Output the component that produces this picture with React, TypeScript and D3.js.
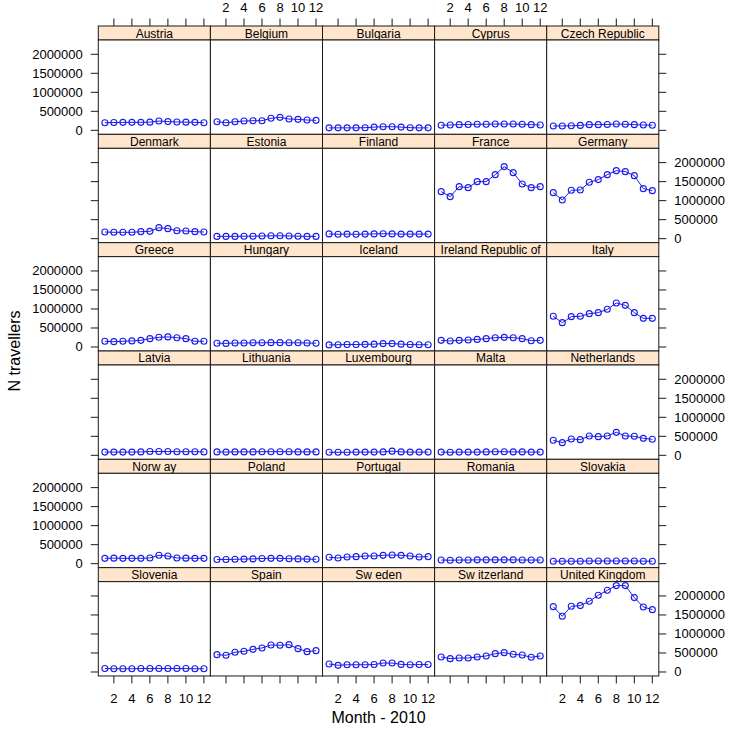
import React from "react";
import * as d3 from "d3";

const countries = [
  "Austria", "Belgium", "Bulgaria", "Cyprus", "Czech Republic",
  "Denmark", "Estonia", "Finland", "France", "Germany",
  "Greece", "Hungary", "Iceland", "Ireland Republic of", "Italy",
  "Latvia", "Lithuania", "Luxembourg", "Malta", "Netherlands",
  "Norw ay", "Poland", "Portugal", "Romania", "Slovakia",
  "Slovenia", "Spain", "Sw eden", "Sw itzerland", "United Kingdom",
];

const months = [1, 2, 3, 4, 5, 6, 7, 8, 9, 10, 11, 12];

// thousands of travellers per month
const austria = [200, 205, 210, 210, 210, 215, 245, 230, 220, 215, 210, 200];
const belgium = [226, 200, 226, 245, 253, 253, 316, 342, 297, 289, 271, 263];
const bulgaria = [65, 65, 65, 65, 70, 85, 95, 95, 85, 70, 65, 65];
const cyprus = [135, 140, 150, 155, 160, 160, 165, 165, 165, 160, 150, 140];
const czech = [115, 115, 120, 130, 150, 150, 155, 165, 160, 150, 140, 135];
const denmark = [175, 167, 167, 167, 184, 193, 290, 263, 210, 202, 184, 175];
const estonia = [60, 60, 60, 65, 65, 70, 75, 75, 70, 65, 60, 60];
const finland = [125, 115, 120, 115, 120, 125, 130, 125, 120, 120, 120, 120];
const france = [1237, 1105, 1368, 1342, 1500, 1500, 1684, 1895, 1737, 1439, 1342, 1368];
const germany = [1210, 1018, 1272, 1280, 1482, 1553, 1684, 1789, 1763, 1658, 1316, 1263];
const greece = [150, 140, 150, 160, 175, 220, 255, 265, 245, 220, 150, 150];
const hungary = [100, 95, 105, 105, 110, 110, 115, 115, 110, 110, 105, 100];
const iceland = [55, 60, 65, 65, 70, 75, 90, 90, 75, 65, 60, 60];
const ireland = [175, 158, 175, 184, 200, 219, 245, 254, 245, 219, 166, 175];
const italy = [807, 640, 798, 807, 877, 904, 991, 1158, 1096, 904, 754, 754];
const latvia = [85, 85, 85, 85, 90, 100, 100, 100, 95, 95, 95, 90];
const lithuania = [90, 85, 90, 90, 90, 95, 95, 95, 95, 90, 90, 90];
const luxembourg = [80, 80, 80, 85, 85, 85, 90, 110, 90, 85, 85, 85];
const malta = [85, 80, 85, 85, 85, 90, 95, 95, 90, 90, 85, 85];
const netherlands = [395, 333, 430, 412, 509, 491, 509, 605, 509, 500, 447, 421];
const norway = [140, 145, 140, 140, 140, 150, 220, 200, 150, 145, 140, 140];
const poland = [110, 110, 115, 120, 125, 135, 140, 140, 130, 125, 120, 115];
const portugal = [167, 149, 175, 184, 202, 202, 219, 228, 219, 202, 175, 184];
const romania = [95, 90, 95, 95, 100, 100, 100, 100, 100, 95, 95, 95];
const slovakia = [65, 65, 65, 65, 70, 70, 70, 70, 70, 70, 65, 65];
const slovenia = [90, 85, 85, 85, 90, 90, 90, 90, 90, 90, 85, 85];
const spain = [456, 439, 518, 544, 596, 632, 711, 702, 719, 614, 535, 561];
const sweden = [210, 175, 190, 190, 190, 195, 235, 235, 200, 190, 195, 195];
const switzerland = [395, 351, 368, 368, 395, 421, 482, 509, 465, 447, 386, 421];
const uk = [1719, 1465, 1728, 1746, 1860, 2018, 2149, 2272, 2272, 1956, 1711, 1640];

const series = [
  austria, belgium, bulgaria, cyprus, czech,
  denmark, estonia, finland, france, germany,
  greece, hungary, iceland, ireland, italy,
  latvia, lithuania, luxembourg, malta, netherlands,
  norway, poland, portugal, romania, slovakia,
  slovenia, spain, sweden, switzerland, uk,
];

const xTicks = [2, 4, 6, 8, 10, 12];
const yTicks = [0, 500000, 1000000, 1500000, 2000000];
const xLimits = [0.27, 12.72];
const yLimits = [-105000, 2376000];

const W = 730;
const H = 735;
const PL = 98.3;
const PW = 112.1;
const PT = 26;
const RH = 108.33;
const SH = 14;
const NC = 5;
const NR = 6;
const TICK = 7.5;
const FONT = "'Liberation Sans', Arial, Helvetica, sans-serif";
const BLUE = "#1a1aee";
const BORDER = "#1a1a1a";

export default function App() {
  const plotH = RH - SH;
  const x = d3.scaleLinear().domain(xLimits).range([0, PW]);
  const y = d3.scaleLinear().domain(yLimits).range([plotH, 0]);
  const line = d3
    .line<number>()
    .x((_, i) => x(months[i]))
    .y((v) => y(v * 1000));

  const panels = countries.map((name, i) => {
    const col = i % NC;
    const row = Math.floor(i / NC);
    const x0 = PL + col * PW;
    const y0 = PT + row * RH;
    const vals = series[i];
    return (
      <g key={name}>
        <rect x={x0} y={y0} width={PW} height={SH} fill="#ffe5cc" stroke={BORDER} strokeWidth={1} />
        <text x={x0 + PW / 2} y={y0 + SH / 2 + 0.5} textAnchor="middle" dominantBaseline="central" fontSize={12} fontFamily={FONT} fill="#000">
          {name}
        </text>
        <g transform={`translate(${x0},${y0 + SH})`}>
          <rect x={0} y={0} width={PW} height={plotH} fill="#fff" stroke={BORDER} strokeWidth={1} />
          <path d={line(vals) || ""} fill="none" stroke={BLUE} strokeWidth={1} />
          {vals.map((v, j) => (
            <circle key={j} cx={x(months[j])} cy={y(v * 1000)} r={3} fill="none" stroke={BLUE} strokeWidth={1.1} />
          ))}
        </g>
      </g>
    );
  });

  const axes: React.ReactNode[] = [];
  for (let col = 0; col < NC; col++) {
    const x0 = PL + col * PW;
    const yTop = PT;
    const yBot = PT + NR * RH;
    xTicks.forEach((t) => {
      const xx = x0 + x(t);
      axes.push(<line key={`tt${col}-${t}`} x1={xx} x2={xx} y1={yTop} y2={yTop - TICK} stroke={BORDER} strokeWidth={1} />);
      axes.push(<line key={`bt${col}-${t}`} x1={xx} x2={xx} y1={yBot} y2={yBot + TICK} stroke={BORDER} strokeWidth={1} />);
      if (col % 2 === 1) {
        axes.push(
          <text key={`tl${col}-${t}`} x={xx} y={yTop - TICK - 11} textAnchor="middle" dominantBaseline="central" fontSize={13} fontFamily={FONT}>
            {t}
          </text>
        );
      } else {
        axes.push(
          <text key={`bl${col}-${t}`} x={xx} y={yBot + TICK + 15.5} textAnchor="middle" dominantBaseline="central" fontSize={13} fontFamily={FONT}>
            {t}
          </text>
        );
      }
    });
  }
  for (let row = 0; row < NR; row++) {
    const py = PT + row * RH + SH;
    const xl = PL;
    const xr = PL + NC * PW;
    yTicks.forEach((t) => {
      const yy = py + y(t);
      axes.push(<line key={`lt${row}-${t}`} x1={xl} x2={xl - TICK} y1={yy} y2={yy} stroke={BORDER} strokeWidth={1} />);
      axes.push(<line key={`rt${row}-${t}`} x1={xr} x2={xr + TICK} y1={yy} y2={yy} stroke={BORDER} strokeWidth={1} />);
      if (row % 2 === 0) {
        axes.push(
          <text key={`ll${row}-${t}`} x={xl - TICK - 8} y={yy} textAnchor="end" dominantBaseline="central" fontSize={13} fontFamily={FONT}>
            {t}
          </text>
        );
      } else {
        axes.push(
          <text key={`rl${row}-${t}`} x={xr + TICK + 8} y={yy} textAnchor="start" dominantBaseline="central" fontSize={13} fontFamily={FONT}>
            {t}
          </text>
        );
      }
    });
  }

  const midY = PT + (NR * RH) / 2;
  const midX = PL + (NC * PW) / 2;

  return (
    <svg
      width={W}
      height={H}
      style={{ position: "absolute", left: 0, top: 0, background: "#fff" }}
      xmlns="http://www.w3.org/2000/svg"
    >
      <rect x={0} y={0} width={W} height={H} fill="#fff" />
      {panels}
      {axes}
      <text
        transform={`translate(14,${midY}) rotate(-90)`}
        textAnchor="middle"
        dominantBaseline="central"
        fontSize={16}
        fontFamily={FONT}
      >
        N travellers
      </text>
      <text x={midX} y={717} textAnchor="middle" dominantBaseline="central" fontSize={16} fontFamily={FONT}>
        Month - 2010
      </text>
    </svg>
  );
}
